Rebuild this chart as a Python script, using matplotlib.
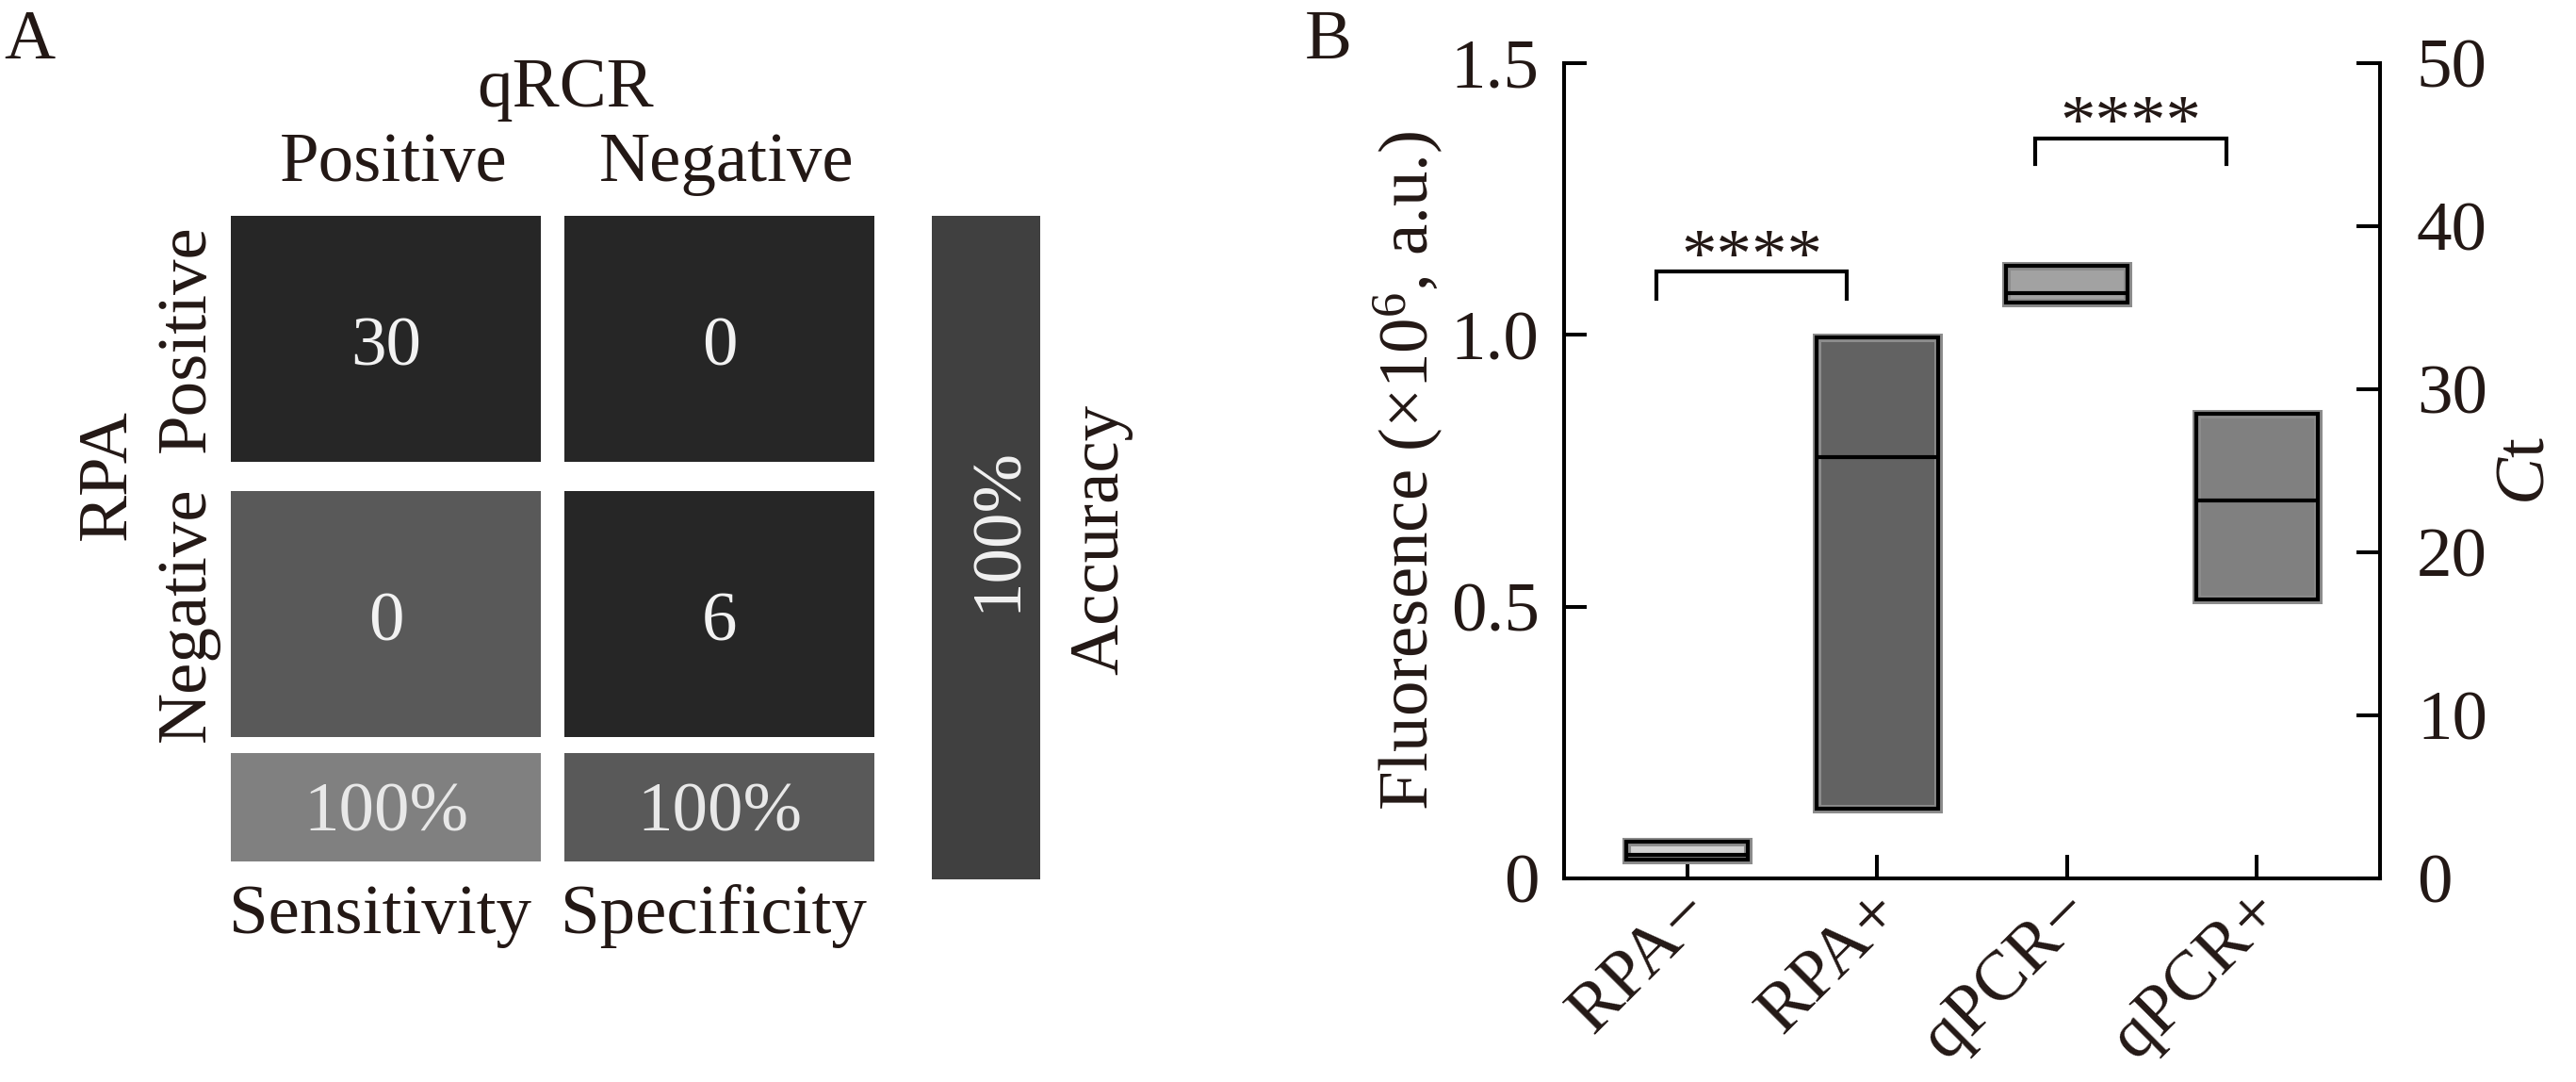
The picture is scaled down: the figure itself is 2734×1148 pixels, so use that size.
import matplotlib
matplotlib.use('Agg')
import matplotlib.pyplot as plt
import matplotlib.transforms as mtransforms

plt.rcParams['font.family'] = ['Liberation Serif', 'DejaVu Serif']
plt.rcParams['mathtext.fontset'] = 'custom'
plt.rcParams['mathtext.rm'] = 'Liberation Serif'
plt.rcParams['mathtext.it'] = 'Liberation Serif:italic'

# Panel A data (RPA vs qRCR confusion matrix).
col_labels = ['Positive', 'Negative']
row_labels = ['Positive', 'Negative']
counts = [[30, 0], [0, 6]]
sensitivity = 100
specificity = 100
accuracy = 100

# Panel B data.
groups = ['RPA\u2212', 'RPA+', 'qPCR\u2212', 'qPCR+']
box_low = [0.035, 0.128, 35.3, 17.1]
box_high = [0.068, 0.995, 37.6, 28.5]
box_mid = [0.043, 0.775, 35.9, 23.2]
on_ct_axis = [False, False, True, True]
sig_pairs = [(0, 1), (2, 3)]
sig_height = [1.116, 45.4]
sig_text = ['****', '****']

FS = 54
W, H = 2734, 1148
fig = plt.figure(figsize=(W / 100, H / 100), dpi=100)

# ---------------- Panel A (pixel layout) ----------------
axa = fig.add_axes([0, 0, 1, 1])
axa.set_xlim(0, W)
axa.set_ylim(H, 0)
axa.axis('off')

col_x = [245, 599]
col_w = 329
row_y = [229, 521]
row_h = 261
sum_y, sum_h = 799, 115
acc_x, acc_w, acc_top, acc_bot = 989, 115, 229, 933

cell_colors = [['#262626', '#262626'], ['#595959', '#262626']]
sum_colors = ['#808080', '#595959']

for i in range(2):
    for j in range(2):
        axa.bar(col_x[j], row_h, bottom=row_y[i], width=col_w, align='edge',
                color=cell_colors[i][j], linewidth=0)
        axa.text(col_x[j] + col_w / 2, row_y[i] + row_h / 2 + 28, str(counts[i][j]),
                 ha='center', va='baseline', fontsize=FS, color='#f2f2f2')

for j, val in enumerate([sensitivity, specificity]):
    axa.bar(col_x[j], sum_h, bottom=sum_y, width=col_w, align='edge',
            color=sum_colors[j], linewidth=0)
    axa.text(col_x[j] + col_w / 2, sum_y + sum_h / 2 + 25, '%d%%' % val,
             ha='center', va='baseline', fontsize=FS, color='#e8e8e8')

axa.bar(acc_x, acc_bot - acc_top, bottom=acc_top, width=acc_w, align='edge',
        color='#404040', linewidth=0)
axa.text(acc_x + acc_w - 26, 561, '%d%%' % accuracy, rotation=90, rotation_mode='anchor',
         ha='center', va='baseline', fontsize=FS, color='#f2f2f2')
axa.text(1186, 572, 'Accuracy', rotation=90, rotation_mode='anchor',
         ha='center', va='baseline', fontsize=FS, color='#231815')

# headers
axa.text(600, 113, 'qRCR', ha='center', va='baseline', fontsize=FS, color='#231815')
for j, lab in enumerate(col_labels):
    axa.text(col_x[j] + col_w / 2 + 8, 192, lab, ha='center', va='baseline',
             fontsize=FS, color='#231815')
axa.text(133, 504, 'RPA', rotation=90, rotation_mode='anchor',
         ha='center', va='baseline', fontsize=FS, color='#231815')
for i, lab in enumerate(row_labels):
    axa.text(217, row_y[i] + row_h / 2, lab, rotation=90, rotation_mode='anchor',
             ha='center', va='baseline', fontsize=FS, color='#231815')
for j, lab in enumerate(['Sensitivity', 'Specificity']):
    axa.text(col_x[j] + col_w / 2 - 6, 990, lab, ha='center', va='baseline',
             fontsize=FS, color='#231815')

axa.text(4, 62, 'A', ha='left', va='baseline', fontsize=FS, color='#231815')
axa.text(1385, 62, 'B', ha='left', va='baseline', fontsize=FS, color='#231815')

# ---------------- Panel B ----------------
axb = fig.add_axes([1660 / W, 1 - 932 / H, (2526 - 1660) / W, (932 - 67) / H])
axb.patch.set_visible(False)
ax2 = axb.twinx()

axb.set_xlim(-0.65, 3.65)
axb.set_ylim(0, 1.5)
ax2.set_ylim(0, 50)

box_colors = ['#d2d2d2', '#626262', '#a2a2a2', '#808080']
bw = 0.64
for i in range(len(groups)):
    ax = ax2 if on_ct_axis[i] else axb
    ax.bar(i, box_high[i] - box_low[i], bottom=box_low[i], width=bw,
           color=box_colors[i], edgecolor='#8c8c8c', linewidth=6.5, zorder=2)
    ax.bar(i, box_high[i] - box_low[i], bottom=box_low[i], width=bw,
           fill=False, edgecolor='black', linewidth=3, zorder=3)
    ax.hlines(box_mid[i], i - bw / 2, i + bw / 2, color='black', linewidth=3, zorder=4)

# significance brackets
for k, (a, b) in enumerate(sig_pairs):
    ax = ax2 if on_ct_axis[a] else axb
    y = sig_height[k]
    drop = 0.049 if ax is axb else 1.6
    x1, x2 = a - 0.165, b - 0.16
    ax.plot([x1, x1, x2, x2], [y - drop, y, y, y - drop], color='black',
            linewidth=3, solid_joinstyle='miter', zorder=4)
    ax.text((x1 + x2) / 2, y - drop * 0.2, sig_text[k], ha='center', va='baseline',
            fontsize=FS, color='#231815')

for ax in [axb, ax2]:
    for s in ax.spines.values():
        s.set_linewidth(2.9)
    ax.spines['top'].set_visible(False)

axb.set_xticks(range(len(groups)))
axb.set_xticklabels(groups, rotation=45, ha='right', va='center', rotation_mode='anchor')
axb.set_yticks([0, 0.5, 1.0, 1.5])
axb.set_yticklabels(['0', '0.5', '1.0', '1.5'])
ax2.set_yticks([0, 10, 20, 30, 40, 50])

axb.tick_params(axis='x', direction='in', length=18, width=2.9, labelsize=FS, pad=18,
                labelcolor='#231815')
axb.tick_params(axis='y', direction='in', length=17, width=2.9, labelsize=FS, pad=19,
                labelcolor='#231815')
ax2.tick_params(axis='y', direction='in', length=18, width=2.9, labelsize=FS, pad=28,
                labelcolor='#231815')

offset = mtransforms.ScaledTranslation(15 / 100, 0, fig.dpi_scale_trans)
for lbl in axb.get_xticklabels():
    lbl.set_transform(lbl.get_transform() + offset)

axb.set_ylabel('Fluoresence (\u00d710$^{6}$, a.u.)', fontsize=FS, labelpad=4,
               color='#231815')
ax2.set_ylabel('$\\mathit{C}$t', fontsize=FS, labelpad=6, color='#231815')

fig.savefig('out.png', dpi=100)
